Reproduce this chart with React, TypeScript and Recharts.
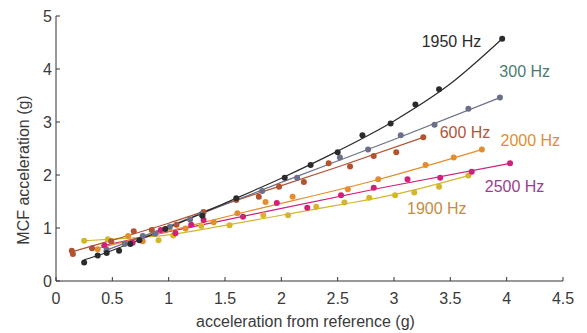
import React from "react";
import {
  ComposedChart,
  Scatter,
  XAxis,
  YAxis,
  ReferenceDot,
} from "recharts";

// ticks
const xTicks = [0, 0.5, 1, 1.5, 2, 2.5, 3, 3.5, 4, 4.5];
const yTicks = [0, 1, 2, 3, 4, 5];

// 1950 Hz
const hz1950X = [0.25, 0.37, 0.45, 0.56, 0.66, 0.74, 0.97, 1.3, 1.6, 2.03, 2.26, 2.5, 2.72, 2.97, 3.19, 3.4, 3.96];
const hz1950Y = [0.35, 0.48, 0.53, 0.57, 0.7, 0.77, 0.98, 1.23, 1.56, 1.95, 2.19, 2.43, 2.75, 2.97, 3.33, 3.62, 4.57];
const fit1950X = [0.25, 0.4, 0.6, 1, 1.5, 2, 2.5, 3, 3.5, 3.96];
const fit1950Y = [0.4, 0.5, 0.66, 1.01, 1.47, 1.94, 2.45, 3.02, 3.72, 4.57];

// 300 Hz
const hz300X = [0.45, 0.61, 0.77, 0.88, 1.01, 1.19, 1.29, 1.83, 2.14, 2.52, 2.77, 3.06, 3.36, 3.66, 3.94];
const hz300Y = [0.59, 0.7, 0.85, 0.89, 1.02, 1.16, 1.26, 1.7, 1.95, 2.33, 2.48, 2.75, 2.95, 3.25, 3.46];
const fit300X = [0.42, 1, 2, 3, 3.94];
const fit300Y = [0.56, 1.03, 1.86, 2.67, 3.46];

// 600 Hz
const hz600X = [0.14, 0.15, 0.32, 0.49, 0.69, 0.85, 1.07, 1.31, 1.6, 1.8, 1.98, 2.2, 2.42, 2.61, 2.82, 3.02, 3.26];
const hz600Y = [0.57, 0.51, 0.62, 0.75, 0.94, 0.96, 1.06, 1.3, 1.53, 1.59, 1.78, 1.87, 2.22, 2.16, 2.36, 2.43, 2.71];
const fit600X = [0.14, 0.5, 1, 1.6, 2.5, 3.26];
const fit600Y = [0.55, 0.77, 1.09, 1.52, 2.15, 2.71];

// 2000 Hz
const hz2000X = [0.37, 0.64, 0.77, 1.15, 1.4, 1.61, 1.86, 2.1, 2.59, 2.86, 3.28, 3.53, 3.78];
const hz2000Y = [0.6, 0.85, 0.75, 0.99, 1.11, 1.28, 1.49, 1.59, 1.73, 1.92, 2.19, 2.33, 2.48];
const fit2000X = [0.3, 1, 1.6, 2.87, 3.78];
const fit2000Y = [0.58, 0.94, 1.26, 1.92, 2.48];

// 2500 Hz
const hz2500X = [0.43, 0.68, 0.93, 1.06, 1.2, 1.31, 1.66, 1.96, 2.23, 2.53, 2.82, 3.12, 3.41, 3.69, 4.03];
const hz2500Y = [0.67, 0.72, 0.96, 0.9, 1.06, 1.15, 1.21, 1.47, 1.38, 1.62, 1.76, 1.92, 1.95, 2.06, 2.22];
const fit2500X = [0.4, 1, 1.5, 2.87, 4.03];
const fit2500Y = [0.66, 0.93, 1.15, 1.75, 2.22];

// 1900 Hz
const hz1900X = [0.25, 0.46, 0.91, 1.04, 1.29, 1.54, 1.84, 2.06, 2.31, 2.56, 2.78, 3.01, 3.18, 3.4, 3.66];
const hz1900Y = [0.76, 0.79, 0.77, 0.86, 1.04, 1.05, 1.24, 1.24, 1.4, 1.48, 1.57, 1.62, 1.67, 1.78, 1.99];
const fit1900X = [0.25, 0.5, 1, 1.5, 2, 2.5, 3, 3.66];
const fit1900Y = [0.76, 0.79, 0.87, 1.05, 1.24, 1.43, 1.63, 1.99];

const zip = (xs: number[], ys: number[]) => xs.map((x, i) => ({ x, y: ys[i] }));

const series = [
  { name: "1900 Hz", color: "#d3b62c", text: "#c48d42", pts: zip(hz1900X, hz1900Y), fit: zip(fit1900X, fit1900Y), lx: 3.38, ly: 1.38 },
  { name: "2500 Hz", color: "#d11f7a", text: "#9a3f8e", pts: zip(hz2500X, hz2500Y), fit: zip(fit2500X, fit2500Y), lx: 4.07, ly: 1.79 },
  { name: "2000 Hz", color: "#e48d2b", text: "#e08f30", pts: zip(hz2000X, hz2000Y), fit: zip(fit2000X, fit2000Y), lx: 4.21, ly: 2.66 },
  { name: "600 Hz", color: "#b2532f", text: "#b0563a", pts: zip(hz600X, hz600Y), fit: zip(fit600X, fit600Y), lx: 3.63, ly: 2.81 },
  { name: "300 Hz", color: "#6b6f87", text: "#4a7d6e", pts: zip(hz300X, hz300Y), fit: zip(fit300X, fit300Y), lx: 4.16, ly: 3.96 },
  { name: "1950 Hz", color: "#2b2b2b", text: "#2b2b2b", pts: zip(hz1950X, hz1950Y), fit: zip(fit1950X, fit1950Y), lx: 3.51, ly: 4.53 },
];

const font = "'Liberation Sans', Arial, sans-serif";
const tickStyle = { fontSize: 16, fill: "#3a3a3a", fontFamily: font };

const noDot = () => <g />;

export default function App() {
  return (
    <div style={{ position: "absolute", left: 0, top: 0, width: 587, height: 333, background: "#fff" }}>
      <ComposedChart width={587} height={333} margin={{ top: 16, right: 24, bottom: 0, left: 0 }}>
        <XAxis
          type="number"
          dataKey="x"
          domain={[0, 4.5]}
          ticks={xTicks}
          tickSize={-4}
          tickMargin={16}
          height={52}
          stroke="#333"
          tick={tickStyle}
          label={{ value: "acceleration from reference (g)", position: "insideBottom", offset: 6, dx: -4, fill: "#3a3a3a", fontSize: 16, fontFamily: font }}
        />
        <YAxis
          type="number"
          dataKey="y"
          domain={[0, 5]}
          ticks={yTicks}
          tickSize={-4}
          tickMargin={8}
          width={56}
          stroke="#333"
          tick={tickStyle}
          label={{
            content: () => (
              <text x={29} y={170} transform="rotate(-90 29 170)" textAnchor="middle" fill="#3a3a3a" fontSize={16} fontFamily={font}>
                MCF acceleration (g)
              </text>
            ),
          }}
        />
        {series.map((s) => (
          <Scatter
            key={s.name + "-fit"}
            data={s.fit}
            line={{ stroke: s.color, strokeWidth: 1.2 }}
            lineJointType="monotoneX"
            shape={noDot}
            isAnimationActive={false}
          />
        ))}
        {series.map((s) => (
          <Scatter
            key={s.name}
            data={s.pts}
            shape={(p: any) => <circle cx={p.cx} cy={p.cy} r={3} fill={s.color} />}
            isAnimationActive={false}
          />
        ))}
        {series.map((s) => (
          <ReferenceDot
            key={s.name + "-label"}
            x={s.lx}
            y={s.ly}
            r={0}
            stroke="none"
            label={{ value: s.name, position: "center", fill: s.text, fontSize: 16, fontFamily: font }}
          />
        ))}
      </ComposedChart>
    </div>
  );
}
